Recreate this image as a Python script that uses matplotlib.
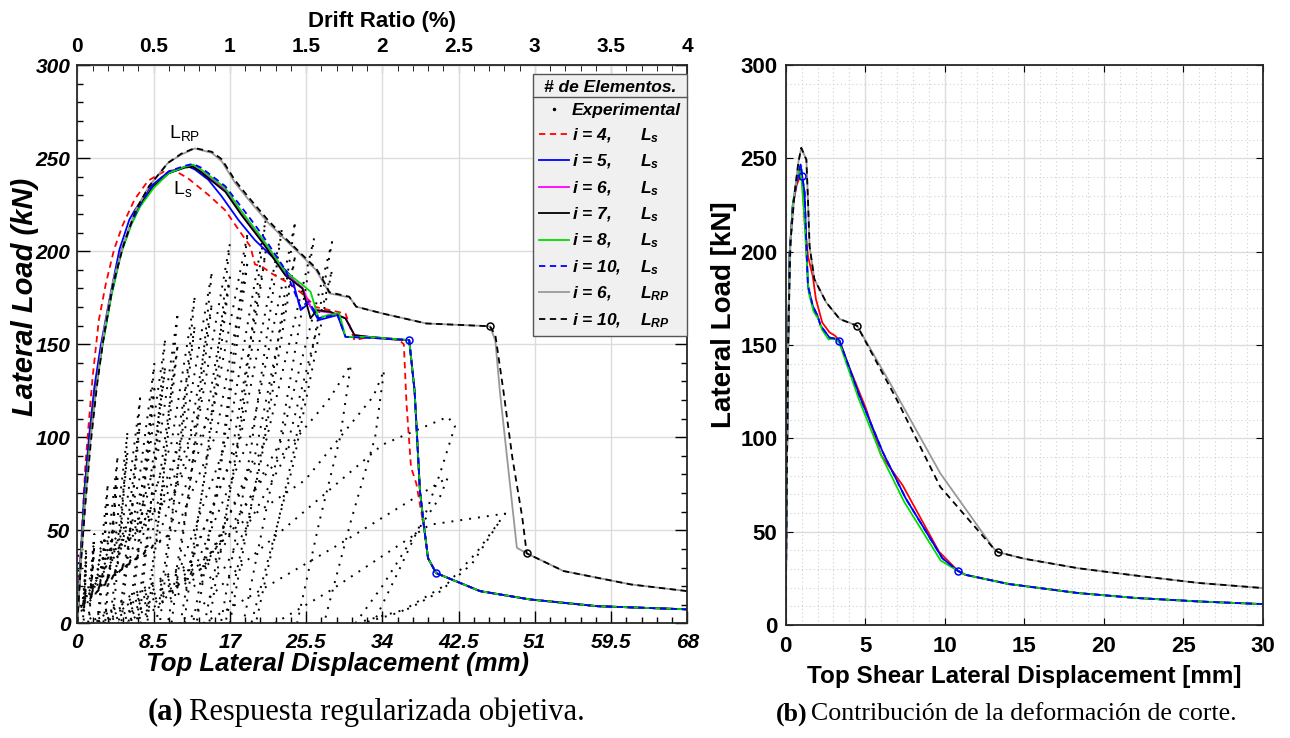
import numpy as np
import matplotlib.pyplot as plt
from matplotlib.ticker import MultipleLocator
from matplotlib.lines import Line2D
from matplotlib.font_manager import FontProperties

plt.rcParams['font.family'] = ['Liberation Sans', 'DejaVu Sans']
plt.rcParams['mathtext.fontset'] = 'custom'
plt.rcParams['mathtext.rm'] = 'Liberation Sans'
plt.rcParams['mathtext.it'] = 'Liberation Sans:italic'
plt.rcParams['mathtext.bf'] = 'Liberation Sans:bold'
plt.rcParams['mathtext.bfit'] = 'Liberation Sans:italic:bold'

# ---- experimental cycles (top displacement mm, lateral load kN), positive side only
exp_branches = [
    [(0, 4), (0.55, 10), (0.8, 22), (1.0, 39), (0.85, 18), (0.7, 0)],
    [(0, 2), (0.6, 8), (0.85, 18), (1.0, 34), (0.8, 14), (0.6, 0)],
    [(0, 6), (1.0, 13), (1.5, 27), (1.9, 48), (1.6, 22), (1.3, 0)],
    [(0, 3), (1.1, 10), (1.6, 22), (1.9, 42), (1.55, 18), (1.2, 0)],
    [(0, 8), (1.9, 19), (2.7, 41), (3.4, 75), (2.9, 34), (2.4, 0)],
    [(0, 5), (2.0, 15), (2.8, 34), (3.4, 66), (2.8, 28), (2.2, 0)],
    [(0, 10), (2.5, 24), (3.6, 50), (4.5, 90), (3.8, 40), (3.1, 0)],
    [(0, 6), (2.6, 19), (3.7, 42), (4.5, 80), (3.7, 34), (2.9, 0)],
    [(0, 12), (3.1, 28), (4.5, 57), (5.6, 103), (4.8, 46), (3.9, 0)],
    [(0, 7), (3.3, 22), (4.6, 48), (5.6, 92), (4.6, 40), (3.6, 0)],
    [(0, 14), (3.9, 32), (5.6, 67), (7.0, 121), (6.0, 54), (4.9, 0)],
    [(0, 8), (4.1, 25), (5.7, 57), (7.0, 108), (5.8, 47), (4.6, 0)],
    [(0, 16), (4.7, 37), (6.9, 77), (8.6, 140), (7.3, 63), (6.0, 0)],
    [(0, 9), (5.0, 29), (7.0, 65), (8.6, 126), (7.1, 55), (5.7, 0)],
    [(0, 19), (5.4, 42), (7.8, 84), (9.8, 153), (8.3, 69), (6.9, 0)],
    [(0, 10), (5.7, 32), (8.0, 72), (9.8, 138), (8.1, 60), (6.6, 0)],
    [(0, 22), (6.2, 47), (9.0, 92), (11.2, 167), (9.5, 75), (7.8, 0)],
    [(0, 11), (6.6, 35), (9.2, 79), (11.2, 150), (9.3, 65), (7.5, 0)],
    [(0, 25), (7.2, 51), (10.5, 97), (13.1, 176), (11.1, 79), (9.2, 0)],
    [(0, 12), (7.6, 38), (10.7, 84), (13.1, 160), (10.9, 70), (8.8, 0)],
    [(0, 28), (8.3, 56), (12.0, 104), (15.0, 189), (12.8, 85), (10.5, 0)],
    [(0, 13), (8.7, 42), (12.2, 90), (15.0, 172), (12.6, 75), (10.1, 0)],
    [(0, 32), (9.4, 62), (13.6, 112), (17.0, 204), (14.5, 92), (11.9, 0)],
    [(0, 14), (9.9, 46), (13.9, 97), (17.0, 186), (14.3, 81), (11.5, 0)],
    [(0, 36), (10.5, 67), (15.2, 116), (19.0, 210), (16.2, 95), (13.3, 0)],
    [(0, 15), (11.0, 50), (15.5, 102), (19.0, 195), (16.0, 84), (12.9, 0)],
    [(0.5, 0), (11.5, 30), (16.8, 100), (21.0, 217), (17.9, 98), (14.7, 0)],
    [(1.0, 0), (12.0, 24), (17.1, 88), (21.0, 200), (17.7, 88), (14.2, 0)],
    [(1.5, 0), (12.5, 32), (18.2, 100), (22.8, 212), (19.4, 95), (16.0, 0)],
    [(2.5, 0), (13.4, 33), (19.4, 102), (24.3, 216), (20.7, 97), (17.0, 0)],
    [(3.0, 0), (14.0, 26), (19.8, 90), (24.3, 198), (20.5, 88), (16.5, 0)],
    [(3.5, 0), (14.5, 34), (21.1, 99), (26.4, 207), (22.4, 93), (18.5, 0)],
    [(4.5, 0), (15.6, 35), (22.7, 98), (28.4, 205), (24.1, 92), (19.9, 0)],
    [(5.0, 0), (16.2, 28), (23.0, 88), (28.4, 190), (24.0, 84), (19.4, 0)],
    [(5.5, 0), (14, 30), (21, 80), (28, 120), (30.5, 139), (29.3, 100), (27, 55), (24.5, 0)],
    [(7, 0), (18, 53), (25.4, 77), (33, 122), (34.2, 136), (33.2, 100), (30.5, 55), (27.5, 0)],
    [(12, 0), (18, 30), (34, 96), (41.3, 111), (42.1, 106), (40.4, 80), (38.9, 60), (36, 30), (33, 0)],
    [(14, 0), (18, 11), (29.2, 42.5), (41.3, 78.4), (40.4, 67.6), (37.4, 46), (34, 20), (31, 0)],
    [(22, 0), (28, 17), (39.3, 53), (47.7, 59), (44.5, 38), (41.2, 21), (36, 6), (31.8, 0)],
    [(31, 0), (37, 8), (40.4, 17), (44, 32), (47.1, 55)],
]

# ---- numerical response, plastic hinge length Ls
x_i4 = [0, 0.4, 0.9, 1.3, 1.7, 2.4, 3.2, 4.1, 5.05, 6.4, 7.9, 9.7, 10.8, 12.3, 14.6, 16.5, 18.0, 19.3,
        19.8, 20.6, 21.7, 23.6, 25.0, 26.6, 29.9, 30.9, 32.5, 35.9, 36.4, 36.7, 37.2, 37.8, 38.7, 39.1,
        40.0, 44.9, 50.5, 58.0, 68.0]
y_i4 = [0, 40, 85, 109, 132, 163, 183, 201, 214, 228, 238, 243, 243.5, 239.4, 230.4, 222, 211.5, 202.5,
        193, 191.7, 188, 182.8, 177.5, 170, 166.5, 152.2, 154, 152.2, 150, 118, 84, 75, 50, 35,
        27, 17.3, 12.8, 9.2, 7.5]

x_i5 = [0, 0.4, 0.8, 1.3, 1.9, 2.6, 3.7, 4.7, 5.8, 6.4, 8.2, 10.1, 12.3, 13.1, 14.6, 16.1, 18.0, 19.8,
        22.1, 23.9, 24.9, 25.8, 26.9, 29.0, 29.9, 33.0, 37.0, 37.6, 38.2, 38.7, 39.1, 40.0, 44.9, 50.5,
        58.0, 68.0]
y_i5 = [0, 38, 72, 100, 127, 149, 177, 201, 217, 222, 235, 242.5, 245.8, 244, 238.5, 229.5, 216.6, 206,
        195.4, 186.3, 168.4, 172, 163, 165.7, 154, 153.5, 152.2, 125, 71, 50, 35, 27, 17.3, 12.8,
        9.2, 7.5]

x_i6 = [0, 0.4, 0.8, 1.4, 2.0, 2.8, 3.8, 4.9, 6.0, 7.0, 8.5, 10.2, 12.0, 12.9, 13.8, 16.5, 18.3, 20.6,
        23.2, 25.1, 26.0, 26.7, 28.2, 29.9, 30.9, 32.5, 37.0, 37.6, 38.2, 38.7, 39.1, 40.0, 44.9, 50.5,
        58.0, 68.0]
y_i6 = [0, 36, 68, 100, 125, 150, 177, 200, 215, 225, 235, 242, 245.5, 246.4, 243, 233, 220.5, 206,
        188, 180.5, 170, 168, 167, 164, 155, 154, 152.2, 125, 71, 50, 35, 27, 17.3, 12.8, 9.2, 7.5]

x_i7 = [0, 0.4, 0.8, 1.4, 2.0, 2.8, 3.8, 4.9, 6.0, 7.0, 8.5, 10.2, 12.0, 12.9, 13.8, 16.5, 18.3, 20.6,
        23.2, 25.1, 26.0, 26.7, 28.2, 29.9, 30.9, 32.5, 37.0, 37.6, 38.2, 38.7, 39.1, 40.0, 44.9, 50.5,
        58.0, 68.0]
y_i7 = [0, 36, 68, 100, 125, 150, 177, 200, 215, 225, 235, 242, 245, 245.5, 242.5, 232, 219.5, 205,
        187, 180, 164, 168.4, 167.5, 163.9, 154.9, 154, 152.2, 125, 71, 50, 35, 27, 17.3, 12.8, 9.2, 7.5]

x_i8 = [0, 0.4, 0.8, 1.4, 2.0, 2.8, 3.8, 4.9, 6.0, 7.0, 8.5, 10.2, 12.0, 12.9, 13.8, 16.5, 18.3, 20.6,
        23.2, 25.1, 26.0, 26.9, 27.9, 29.2, 29.9, 32.5, 37.0, 37.6, 38.2, 38.7, 39.1, 40.0, 44.9, 50.5,
        58.0, 68.0]
y_i8 = [0, 35, 66, 97, 123, 149, 176, 199, 214, 224, 234, 242, 245.5, 246.6, 244, 234, 221.5, 207,
        189, 182, 178.3, 164, 165.7, 166.6, 154, 154, 152.2, 125, 71, 50, 35, 27, 17.3, 12.8, 9.2, 7.5]

x_i10 = [0, 0.4, 0.8, 1.4, 2.0, 2.8, 3.8, 4.9, 6.0, 7.0, 8.5, 10.2, 12.0, 12.9, 13.8, 16.5, 19.1, 20.6,
         23.2, 24.9, 25.8, 26.9, 29.0, 29.9, 32.5, 37.0, 37.6, 38.2, 38.7, 39.1, 40.0, 44.9, 50.5,
         58.0, 68.0]
y_i10 = [0, 35, 67, 98, 124, 150, 177, 200, 215, 225, 236, 243, 246, 247, 245, 235, 218.7, 209,
         190, 170, 173, 164, 166, 154, 153.5, 152.2, 125, 71, 50, 35, 27, 17.3, 12.8, 9.2, 7.5]

# ---- numerical response, plastic hinge length LRP
x_rp6 = [0, 0.4, 0.9, 1.5, 2.2, 3.0, 4.0, 5.2, 6.5, 8.0, 10.1, 11.6, 13.1, 15.0, 16.1, 17.6, 19.1, 21.3,
         23.2, 25.1, 26.6, 27.7, 28.1, 29.9, 30.3, 31.1, 34.0, 38.9, 46.0, 46.6, 47.1, 49.0, 50.1, 54.2,
         61.7, 68.0]
y_rp6 = [0, 33, 66, 100, 130, 158, 184, 205, 222, 235, 247.5, 252, 255.3, 252.9, 248.4, 236.7, 227.7,
         215.2, 206.2, 197.2, 190, 181, 177.4, 175.6, 175.6, 170.2, 166.6, 161.2, 159.7, 152, 125, 40.6,
         37.6, 28.1, 20.9, 17.3]

x_rp10 = [0, 0.4, 0.9, 1.5, 2.2, 3.0, 4.0, 5.2, 6.5, 8.0, 10.1, 11.6, 13.1, 15.0, 16.1, 17.6, 19.1, 21.3,
          23.2, 25.1, 26.6, 27.7, 28.1, 29.9, 30.3, 31.1, 34.0, 38.9, 46.0, 46.6, 47.5, 48.5, 49.6,
          50.1, 54.2, 61.7, 68.0]
y_rp10 = [0, 32, 64, 97, 128, 156, 183, 204, 222, 235, 247.5, 252.5, 255.5, 253.5, 249.5, 238, 229,
          216.5, 207, 198, 191, 182, 178, 176, 175.6, 170.2, 166.6, 161.2, 159.7, 155, 125, 89, 57,
          37.6, 28.1, 20.9, 17.3]

# ---- shear contribution (mm, kN)
xs_i4 = [0, 0.05, 0.15, 0.25, 0.45, 0.7, 0.9, 1.05, 1.2, 1.4, 1.7, 1.9, 2.3, 2.75, 3.1, 3.38, 4.0, 5.05,
         6.0, 7.35, 9.64, 10.83, 11.3, 14.0, 18.4, 22.0, 26.0, 30.0]
ys_i4 = [0, 60, 148, 199, 225, 236, 240, 238, 215, 197.6, 187, 174.6, 162, 156.8, 155, 152.3, 138, 115.9,
         91, 74.9, 39.3, 29, 26.9, 22, 17.1, 14.5, 12.6, 11.2]

xs_i5 = [0, 0.05, 0.15, 0.25, 0.45, 0.7, 0.94, 1.04, 1.19, 1.3, 1.4, 1.7, 2.0, 2.2, 2.75, 3.17, 3.38,
         4.63, 6.1, 7.55, 9.85, 10.83, 11.3, 14.0, 18.4, 22.0, 26.0, 30.0]
ys_i5 = [0, 60, 148, 199, 225, 238, 246.7, 240.4, 231.5, 203, 181.7, 171, 165.7, 160.3, 154, 153.2, 152.3,
         123, 92.7, 67.8, 35.8, 29, 26.9, 22, 17.1, 14.5, 12.6, 11.2]

xs_i8 = [0, 0.05, 0.15, 0.25, 0.45, 0.7, 0.88, 1.0, 1.15, 1.3, 1.45, 1.75, 2.05, 2.3, 2.7, 3.1, 3.38,
         4.6, 6.0, 7.45, 9.75, 10.83, 11.3, 14.0, 18.4, 22.0, 26.0, 30.0]
ys_i8 = [0, 60, 148, 199, 226, 239, 245.7, 238, 222, 198, 178, 168, 164, 158, 153, 153.5, 151,
         121, 91, 66, 34.5, 29, 26.9, 22, 17.1, 14.5, 12.6, 11.2]

xs_rp6 = [0, 0.05, 0.15, 0.3, 0.56, 0.8, 0.98, 1.3, 1.4, 1.5, 1.8, 2.55, 3.4, 4.49, 6.57, 9.72, 13.08,
          13.36, 15.0, 18.4, 22.0, 26.0, 30.0]
ys_rp6 = [0, 60, 150, 205, 231.5, 248, 255.6, 249.3, 228, 203, 185.3, 172.8, 163.9, 160.3, 129.5, 81.3,
          41, 39, 35.5, 30.4, 26.5, 22.5, 19.8]

xs_rp10 = [0, 0.05, 0.15, 0.3, 0.56, 0.8, 0.98, 1.3, 1.4, 1.5, 1.8, 2.55, 3.4, 4.49, 7.0, 9.72, 13.08,
           13.36, 15.0, 18.4, 22.0, 26.0, 30.0]
ys_rp10 = [0, 60, 150, 205, 231.5, 248, 255.6, 249.3, 228, 203, 185.3, 172.8, 163.9, 160.3, 120.5, 74,
           41, 39, 35.5, 30.4, 26.5, 22.5, 19.8]

# marked points (yield / failure)
mk_ls = ([37.0, 40.0], [152.2, 27.0])
mk_rp = ([46.0, 50.1], [159.7, 37.6])
mks_ls = ([1.04, 3.38, 10.83], [240.4, 152.3, 29.0])
mks_rp = ([4.49, 13.36], [160.3, 39.0])

disp_ticks = [0, 8.5, 17, 25.5, 34, 42.5, 51, 59.5, 68]
disp_labels = ['0', '8.5', '17', '25.5', '34', '42.5', '51', '59.5', '68']
drift_ticks = [0, 0.5, 1, 1.5, 2, 2.5, 3, 3.5, 4]
drift_labels = ['0', '0.5', '1', '1.5', '2', '2.5', '3', '3.5', '4']
H = 1700.0  # mm, drift = disp / H * 100

legend_labels = ['Experimental',
                 'i = 4,' + ' ' * 6 + r'$\mathbfit{L_{s}}$',
                 'i = 5,' + ' ' * 6 + r'$\mathbfit{L_{s}}$',
                 'i = 6,' + ' ' * 6 + r'$\mathbfit{L_{s}}$',
                 'i = 7,' + ' ' * 6 + r'$\mathbfit{L_{s}}$',
                 'i = 8,' + ' ' * 6 + r'$\mathbfit{L_{s}}$',
                 'i = 10,' + ' ' * 4 + r'$\mathbfit{L_{s}}$',
                 'i = 6,' + ' ' * 6 + r'$\mathbfit{L_{RP}}$',
                 'i = 10,' + ' ' * 4 + r'$\mathbfit{L_{RP}}$']

bi = dict(fontweight='bold', fontstyle='italic')
lw = 1.3

fig = plt.figure(figsize=(12.9, 7.38), dpi=100)

# ================= (a) =================
ax = fig.add_axes([77.3 / 1290, 1 - 623.3 / 738, 610 / 1290, 558 / 738])
ax.set_axisbelow(True)
ax.grid(True, which='major', color='#dcdcdc', lw=1.0)

for br in exp_branches:
    bx = [p[0] for p in br]
    by = [p[1] for p in br]
    ax.plot(bx, by, color='k', lw=1.4, ls=(0, (1, 3.6)), dash_capstyle='butt')

ax.plot(x_i4, y_i4, color='red', ls=(0, (3.5, 2.5)), lw=lw)
ax.plot(x_i5, y_i5, color='blue', lw=lw)
ax.plot(x_i6, y_i6, color='magenta', lw=lw)
ax.plot(x_i7, y_i7, color='black', lw=lw)
ax.plot(x_i8, y_i8, color='#00dd00', lw=lw)
ax.plot(x_i10, y_i10, color='blue', ls=(0, (3.5, 2.5)), lw=lw)
ax.plot(x_rp6, y_rp6, color='#999999', lw=lw)
ax.plot(x_rp10, y_rp10, color='black', ls=(0, (3.5, 2.5)), lw=lw)
ax.plot(*mk_ls, ls='none', marker='o', ms=5, mfc='none', mec='blue', mew=1.1)
ax.plot(*mk_rp, ls='none', marker='o', ms=5, mfc='none', mec='black', mew=1.1)

ax.text(12.0, 263.6, r'$\mathrm{L_{RP}}$', fontsize=14, ha='center', va='center')
ax.text(11.7, 233.5, r'$\mathrm{L_{s}}$', fontsize=14, ha='center', va='center')

ax.set_xlim(0, 68)
ax.set_ylim(0, 300)
ax.set_xticks(disp_ticks, labels=disp_labels)
ax.xaxis.set_minor_locator(MultipleLocator(1.7))
ax.yaxis.set_major_locator(MultipleLocator(50))
ax.yaxis.set_minor_locator(MultipleLocator(10))
ax.tick_params(which='both', direction='in', top=False, right=True, labelsize=15)
ax.tick_params(axis='x', pad=7)
ax.tick_params(axis='y', pad=5)
ax.tick_params(which='major', length=9, width=1.0)
ax.tick_params(which='minor', length=4.5, width=1.0)
for t in ax.get_xticklabels() + ax.get_yticklabels():
    t.set_fontweight('bold')
    t.set_fontstyle('italic')
for s in ax.spines.values():
    s.set_linewidth(1.3)
    s.set_color('#262626')
ax.set_xlabel('Top Lateral Displacement (mm)', fontsize=18.5, **bi)
ax.set_ylabel('Lateral Load (kN)', fontsize=21, **bi)
ax.xaxis.set_label_coords(0.426, -0.052)
ax.yaxis.set_label_coords(-0.063, 0.585)

sec = ax.secondary_xaxis('top', functions=(lambda d: d / H * 100, lambda r: r * H / 100))
sec.set_xticks(drift_ticks, labels=drift_labels)
sec.xaxis.set_minor_locator(MultipleLocator(0.1))
sec.tick_params(which='both', direction='in', labelsize=15, pad=7)
sec.tick_params(which='major', length=6)
sec.tick_params(which='minor', length=4)
for t in sec.get_xticklabels():
    t.set_fontweight('bold')
sec.set_xlabel('Drift Ratio (%)', fontsize=16, fontweight='bold', labelpad=7)

handles = [Line2D([], [], ls='none', marker='.', ms=3, color='k'),
           Line2D([], [], color='red', ls=(0, (3.5, 2.5)), lw=lw),
           Line2D([], [], color='blue', lw=lw),
           Line2D([], [], color='magenta', lw=lw),
           Line2D([], [], color='black', lw=lw),
           Line2D([], [], color='#00dd00', lw=lw),
           Line2D([], [], color='blue', ls=(0, (3.5, 2.5)), lw=lw),
           Line2D([], [], color='#999999', lw=lw),
           Line2D([], [], color='black', ls=(0, (3.5, 2.5)), lw=lw)]
lp = FontProperties(family='Liberation Sans', weight='bold', style='italic', size=12.5)
leg = ax.legend(handles, legend_labels, loc='upper right', bbox_to_anchor=(1.0, 0.984),
                borderaxespad=0, prop=lp, title='# de Elementos.', title_fontproperties=lp,
                fancybox=False, framealpha=1, facecolor='#f0f0f0', edgecolor='#555555',
                handlelength=1.75, handletextpad=0.15, labelspacing=0.46, borderpad=0.35)
leg.get_frame().set_linewidth(1.0)

# ================= (b) =================
bx2 = fig.add_axes([785.7 / 1290, 1 - 625 / 738, 477 / 1290, 560 / 738])
bx2.set_axisbelow(True)
bx2.grid(True, which='major', color='#dcdcdc', lw=1.0)
bx2.grid(True, which='minor', color='#d0d0d0', lw=0.8, ls=(0, (1, 2.5)))

bx2.plot(xs_i4, ys_i4, color='red', lw=lw)
bx2.plot(xs_i5, ys_i5, color='blue', lw=lw)
bx2.plot(xs_i8, ys_i8, color='#00dd00', lw=lw)
bx2.plot(xs_i5, ys_i5, color='blue', ls=(0, (3.5, 2.5)), lw=lw)
bx2.plot(xs_rp6, ys_rp6, color='#999999', lw=lw)
bx2.plot(xs_rp10, ys_rp10, color='black', ls=(0, (3.5, 2.5)), lw=lw)
bx2.plot(*mks_ls, ls='none', marker='o', ms=5, mfc='none', mec='blue', mew=1.1)
bx2.plot(*mks_rp, ls='none', marker='o', ms=5, mfc='none', mec='black', mew=1.1)

bx2.set_xlim(0, 30)
bx2.set_ylim(0, 300)
bx2.xaxis.set_major_locator(MultipleLocator(5))
bx2.xaxis.set_minor_locator(MultipleLocator(1))
bx2.yaxis.set_major_locator(MultipleLocator(50))
bx2.yaxis.set_minor_locator(MultipleLocator(10))
bx2.tick_params(which='major', direction='in', top=True, right=True, length=5, labelsize=16)
bx2.tick_params(axis='x', pad=8)
bx2.tick_params(axis='y', pad=6)
bx2.tick_params(which='minor', length=0)
for t in bx2.get_xticklabels() + bx2.get_yticklabels():
    t.set_fontweight('bold')
for s in bx2.spines.values():
    s.set_linewidth(1.3)
    s.set_color('#262626')
bx2.set_xlabel('Top Shear Lateral Displacement [mm]', fontsize=17.5, fontweight='bold', labelpad=6)
bx2.set_ylabel('Lateral Load [kN]', fontsize=20, fontweight='bold')
bx2.yaxis.set_label_coords(-0.103, 0.554)

# captions
cap = dict(family='Liberation Serif', va='center')
fig.text(148 / 1290, 1 - 712 / 738, '(a)', fontweight='bold', fontsize=22, **cap)
fig.text(189 / 1290, 1 - 712 / 738, 'Respuesta regularizada objetiva.', fontsize=22, **cap)
fig.text(776 / 1290, 1 - 714 / 738, '(b)', fontweight='bold', fontsize=18.6, **cap)
fig.text(811 / 1290, 1 - 714 / 738, 'Contribución de la deformación de corte.', fontsize=18.6, **cap)

# rule under the legend title
fig.canvas.draw()
r = fig.canvas.get_renderer()
lb = leg.get_frame().get_window_extent(r)
tb = leg.get_title().get_window_extent(r)
ysep = tb.y0 - 2
fig.add_artist(Line2D([lb.x0, lb.x1], [ysep, ysep], transform=None, color='#555555', lw=1.0))

fig.savefig('out.png', dpi=100)
